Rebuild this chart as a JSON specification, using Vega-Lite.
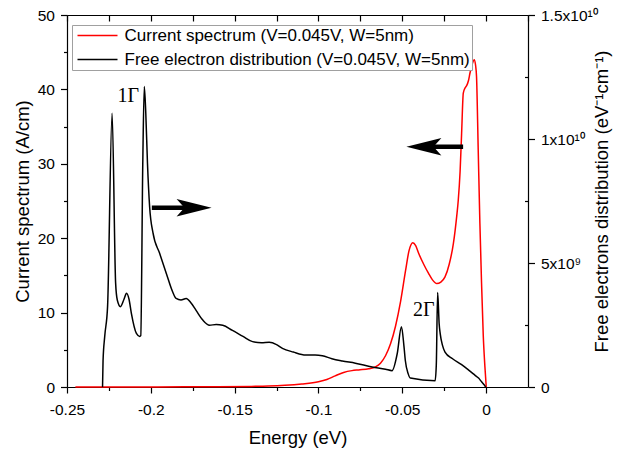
{
  "$schema": "https://vega.github.io/schema/vega-lite/v6.json",
  "width": 461,
  "height": 372,
  "autosize": {"type": "none"},
  "padding": {"left": 67, "top": 15, "right": 96, "bottom": 67},
  "background": "white",
  "datasets": {
    "spectrum": [
      {"e": -0.245, "j": 0}, {"e": -0.2, "j": 0.0}, {"e": -0.18, "j": 0.02}, {"e": -0.16, "j": 0.04},
      {"e": -0.14, "j": 0.08}, {"e": -0.13, "j": 0.12}, {"e": -0.12, "j": 0.22}, {"e": -0.11, "j": 0.4},
      {"e": -0.1, "j": 0.7}, {"e": -0.095, "j": 1.0}, {"e": -0.09, "j": 1.5}, {"e": -0.085, "j": 1.95},
      {"e": -0.08, "j": 2.2}, {"e": -0.076, "j": 2.3}, {"e": -0.07, "j": 2.45}, {"e": -0.066, "j": 2.7},
      {"e": -0.063, "j": 3.2}, {"e": -0.06, "j": 4.2}, {"e": -0.057, "j": 5.8}, {"e": -0.054, "j": 8.2},
      {"e": -0.051, "j": 11.5}, {"e": -0.048, "j": 15.7}, {"e": -0.046, "j": 18.3}, {"e": -0.0437, "j": 19.4},
      {"e": -0.042, "j": 19.0}, {"e": -0.0403, "j": 18.0}, {"e": -0.037, "j": 16.4}, {"e": -0.0344, "j": 15.3},
      {"e": -0.032, "j": 14.4}, {"e": -0.0294, "j": 13.9}, {"e": -0.027, "j": 14.1}, {"e": -0.0245, "j": 14.8},
      {"e": -0.022, "j": 16.5}, {"e": -0.0195, "j": 19.3}, {"e": -0.0175, "j": 23}, {"e": -0.0166, "j": 25.1},
      {"e": -0.0155, "j": 29}, {"e": -0.0146, "j": 34.1}, {"e": -0.0136, "j": 39.5}, {"e": -0.0125, "j": 40.2},
      {"e": -0.0116, "j": 40.5}, {"e": -0.0105, "j": 41.2}, {"e": -0.0096, "j": 42.2}, {"e": -0.008, "j": 43.6},
      {"e": -0.0071, "j": 44.0}, {"e": -0.0063, "j": 43.3}, {"e": -0.0057, "j": 41.7}, {"e": -0.0047, "j": 31.9},
      {"e": -0.0037, "j": 22}, {"e": -0.0027, "j": 13.9}, {"e": -0.0017, "j": 7}, {"e": -0.0007, "j": 2.7},
      {"e": 0.0001, "j": 0}
    ],
    "electrons": [
      {"e": -0.2288, "n": 0}, {"e": -0.2285, "n": 1.05e9}, {"e": -0.2275, "n": 2.04e9}, {"e": -0.2258, "n": 3.24e9},
      {"e": -0.2231, "n": 1.104e10}, {"e": -0.221, "n": 4.2e9}, {"e": -0.22, "n": 3.51e9}, {"e": -0.2181, "n": 3.24e9},
      {"e": -0.216, "n": 3.54e9}, {"e": -0.2145, "n": 3.78e9}, {"e": -0.213, "n": 3.54e9}, {"e": -0.2116, "n": 2.97e9},
      {"e": -0.2086, "n": 2.16e9}, {"e": -0.2066, "n": 2.04e9}, {"e": -0.206, "n": 2.07e9}, {"e": -0.2048, "n": 9.0e9},
      {"e": -0.2039, "n": 1.212e10}, {"e": -0.203, "n": 1.104e10}, {"e": -0.202, "n": 9.03e9}, {"e": -0.2007, "n": 7.26e9},
      {"e": -0.1987, "n": 6.21e9}, {"e": -0.1948, "n": 5.4e9}, {"e": -0.1908, "n": 4.59e9}, {"e": -0.187, "n": 3.84e9},
      {"e": -0.1849, "n": 3.57e9}, {"e": -0.182, "n": 3.51e9}, {"e": -0.1789, "n": 3.57e9}, {"e": -0.176, "n": 3.39e9},
      {"e": -0.173, "n": 3.09e9}, {"e": -0.169, "n": 2.7e9}, {"e": -0.165, "n": 2.49e9}, {"e": -0.161, "n": 2.52e9},
      {"e": -0.1571, "n": 2.49e9}, {"e": -0.1513, "n": 2.28e9}, {"e": -0.145, "n": 2.04e9}, {"e": -0.1393, "n": 1.83e9},
      {"e": -0.134, "n": 1.785e9}, {"e": -0.1294, "n": 1.8e9}, {"e": -0.125, "n": 1.71e9}, {"e": -0.1215, "n": 1.56e9},
      {"e": -0.115, "n": 1.41e9}, {"e": -0.1076, "n": 1.29e9}, {"e": -0.102, "n": 1.29e9}, {"e": -0.0977, "n": 1.26e9},
      {"e": -0.092, "n": 1.14e9}, {"e": -0.0858, "n": 1.05e9}, {"e": -0.078, "n": 9.6e8}, {"e": -0.068, "n": 8.1e8},
      {"e": -0.06, "n": 7.2e8}, {"e": -0.0561, "n": 6.6e8}, {"e": -0.053, "n": 1.35e9}, {"e": -0.0505, "n": 2.43e9},
      {"e": -0.049, "n": 1.65e9}, {"e": -0.0482, "n": 1.08e9}, {"e": -0.0465, "n": 5.4e8}, {"e": -0.0452, "n": 3.6e8},
      {"e": -0.0304, "n": 2.55e8}, {"e": -0.0297, "n": 9.0e8}, {"e": -0.0289, "n": 3.81e9}, {"e": -0.028, "n": 2.55e9},
      {"e": -0.0274, "n": 2.16e9}, {"e": -0.026, "n": 1.68e9}, {"e": -0.0245, "n": 1.41e9}, {"e": -0.02, "n": 1.14e9},
      {"e": -0.0146, "n": 9.0e8}, {"e": -0.01, "n": 6.6e8}, {"e": -0.0067, "n": 4.8e8}, {"e": -0.0045, "n": 3.6e8},
      {"e": -0.0027, "n": 2.1e8}, {"e": -0.001, "n": 7.5e7}, {"e": -0.0003, "n": 0}
    ],
    "arrows": [
      {"dir": "right", "from": -0.1994, "to": -0.176, "head": -0.1742, "j": 24.1},
      {"dir": "left", "from": -0.0137, "to": -0.036, "head": -0.0371, "j": 32.3}
    ],
    "labels": [
      {"e": -0.2135, "j": 39.1, "t": "1Γ"},
      {"e": -0.0371, "j": 10.3, "t": "2Γ"}
    ]
  },
  "resolve": {"scale": {"y": "independent"}, "axis": {"x": "independent", "y": "independent"}},
  "layer": [
    {
      "data": {"name": "spectrum"},
      "mark": {"type": "line", "interpolate": "monotone", "strokeWidth": 1.5},
      "encoding": {
        "x": {"field": "e", "type": "quantitative", "scale": {"domain": [-0.25, 0.025], "nice": false, "zero": false},
          "axis": {"orient": "bottom", "values": [-0.25, -0.2, -0.15, -0.1, -0.05, 0], "labelFlush": false,
            "labelExpr": "datum.value == 0 ? '0' : '-' + format(abs(datum.value), '.2~f')",
            "title": "Energy (eV)", "tickSize": 6, "labelPadding": 9, "titleY": 50, "titleBaseline": "middle"}},
        "y": {"field": "j", "type": "quantitative", "scale": {"domain": [0, 50], "nice": false},
          "axis": {"orient": "left", "values": [0, 10, 20, 30, 40, 50], "title": "Current spectrum (A/cm)", "labelFlush": false,
            "tickSize": 6.5, "labelPadding": 6, "titleAngle": 270, "titleX": -45, "titleY": 186, "titleBaseline": "middle"}},
        "color": {"datum": "Current spectrum (V=0.045V, W=5nm)", "type": "nominal",
          "scale": {"domain": ["Current spectrum (V=0.045V, W=5nm)", "Free electron distribution (V=0.045V, W=5nm)"], "range": ["#ff0000", "#000000"]},
          "legend": {"orient": "none", "legendX": 5, "legendY": 10, "title": null, "padding": 2,
            "strokeColor": "#a0a0a0", "fillColor": "white", "labelFontSize": 17, "labelLimit": 0,
            "symbolType": "M-1,0L7,0", "symbolSize": 100, "symbolStrokeWidth": 1.5, "labelOffset": 33.5, "rowPadding": 6}}
      }
    },
    {
      "data": {"name": "electrons"},
      "mark": {"type": "line", "interpolate": "monotone", "strokeWidth": 1.5},
      "encoding": {
        "x": {"field": "e", "type": "quantitative", "scale": {"domain": [-0.25, 0.025], "nice": false, "zero": false},
          "axis": {"orient": "top", "values": [-0.25, -0.225, -0.2, -0.175, -0.15, -0.125, -0.1, -0.075, -0.05, -0.025, 0, 0.025],
            "labels": false, "title": null, "tickSize": -6}},
        "y": {"field": "n", "type": "quantitative", "scale": {"domain": [0, 15000000000], "nice": false},
          "axis": {"orient": "right", "values": [0, 5000000000, 10000000000, 15000000000], "labelFlush": false,
            "labelExpr": "datum.value == 0 ? '0' : datum.value == 5000000000 ? '5x10⁹' : datum.value == 10000000000 ? '1x10¹⁰' : '1.5x10¹⁰'",
            "title": "Free electrons distribution (eV⁻¹cm⁻¹)", "tickSize": 6.5, "labelPadding": 6,
            "titleAngle": 270, "titleX": 73, "titleY": 186, "titleBaseline": "middle"}},
        "color": {"datum": "Free electron distribution (V=0.045V, W=5nm)", "type": "nominal"}
      }
    },
    {
      "data": {"name": "spectrum"},
      "mark": {"type": "line", "opacity": 0},
      "encoding": {
        "x": {"field": "e", "type": "quantitative", "scale": {"domain": [-0.25, 0.025], "nice": false, "zero": false},
          "axis": {"orient": "bottom", "values": [-0.225, -0.175, -0.125, -0.075, -0.025], "labels": false, "domain": false, "title": null, "tickSize": 3.5}},
        "y": {"field": "j", "type": "quantitative", "scale": {"domain": [0, 50], "nice": false},
          "axis": {"orient": "left", "values": [5, 15, 25, 35, 45], "labels": false, "domain": false, "title": null, "tickSize": 3.5}}
      }
    },
    {
      "data": {"name": "electrons"},
      "mark": {"type": "line", "opacity": 0},
      "encoding": {
        "x": {"field": "e", "type": "quantitative", "scale": {"domain": [-0.25, 0.025], "nice": false, "zero": false}, "axis": null},
        "y": {"field": "n", "type": "quantitative", "scale": {"domain": [0, 15000000000], "nice": false},
          "axis": {"orient": "right", "values": [2500000000, 7500000000, 12500000000], "labels": false, "domain": false, "title": null, "tickSize": -3.5}}
      }
    },
    {
      "data": {"name": "arrows"},
      "mark": {"type": "rule", "color": "black", "strokeWidth": 4.5},
      "encoding": {
        "x": {"field": "from", "type": "quantitative", "scale": {"domain": [-0.25, 0.025], "nice": false, "zero": false}, "axis": null},
        "x2": {"field": "to"},
        "y": {"field": "j", "type": "quantitative", "scale": {"domain": [0, 50], "nice": false}, "axis": null}
      }
    },
    {
      "data": {"name": "arrows"},
      "mark": {"type": "point", "filled": true, "color": "black", "opacity": 1, "size": 1225, "strokeWidth": 0},
      "encoding": {
        "x": {"field": "head", "type": "quantitative", "scale": {"domain": [-0.25, 0.025], "nice": false, "zero": false}, "axis": null},
        "y": {"field": "j", "type": "quantitative", "scale": {"domain": [0, 50], "nice": false}, "axis": null},
        "shape": {"field": "dir", "type": "nominal",
          "scale": {"domain": ["right", "left"], "range": ["M1,0L-1,-0.5L-0.55,0L-1,0.5Z", "M-1,0L1,-0.5L0.55,0L1,0.5Z"]},
          "legend": null}
      }
    },
    {
      "data": {"name": "labels"},
      "mark": {"type": "text", "font": "Liberation Serif", "fontSize": 20, "color": "black", "align": "center", "baseline": "middle"},
      "encoding": {
        "x": {"field": "e", "type": "quantitative", "scale": {"domain": [-0.25, 0.025], "nice": false, "zero": false}, "axis": null},
        "y": {"field": "j", "type": "quantitative", "scale": {"domain": [0, 50], "nice": false}, "axis": null},
        "text": {"field": "t"}
      }
    }
  ],
  "config": {
    "font": "Liberation Sans",
    "view": {"stroke": null},
    "axis": {
      "grid": false, "domainColor": "black", "domainWidth": 1.2, "tickColor": "black", "tickWidth": 1.2,
      "labelColor": "black", "labelFontSize": 15.5, "labelFont": "Liberation Sans",
      "titleColor": "black", "titleFontSize": 18.5, "titleFontWeight": "normal", "titleFont": "Liberation Sans"
    },
    "legend": {"labelFont": "Liberation Sans", "labelColor": "black"}
  }
}
